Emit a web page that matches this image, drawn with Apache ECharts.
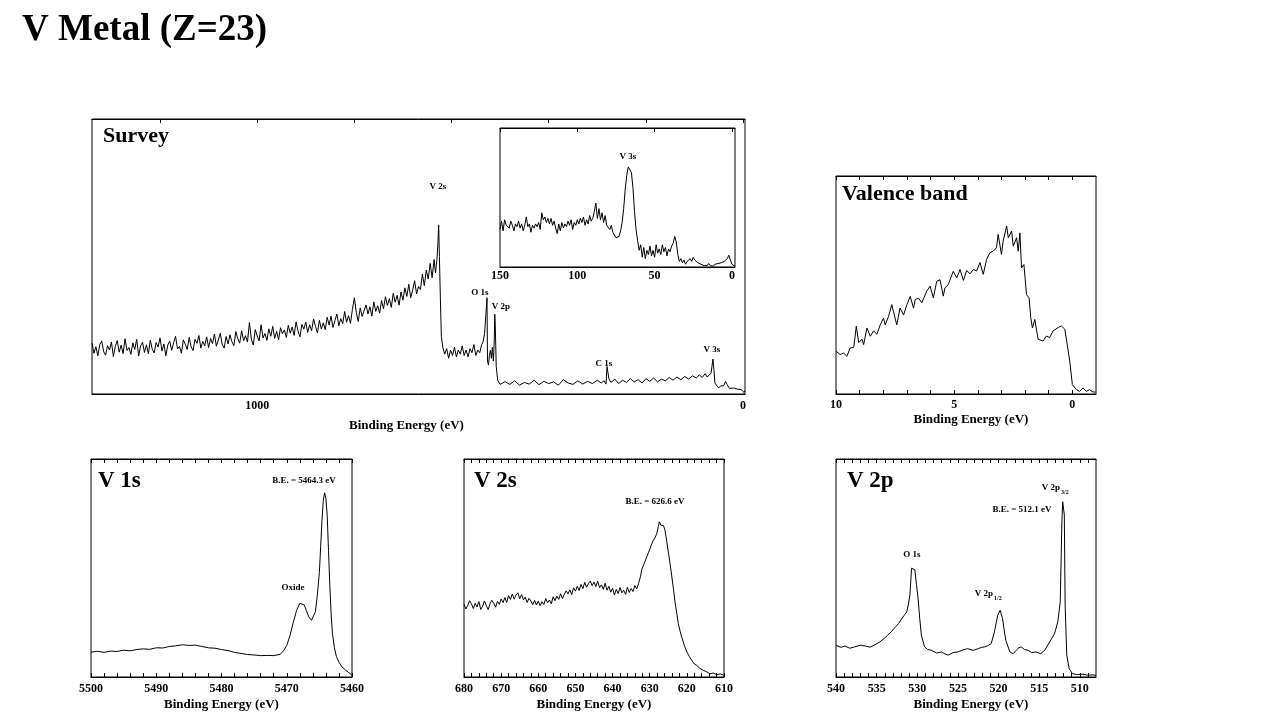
<!DOCTYPE html>
<html>
<head>
<meta charset="utf-8">
<script src="https://cdn.jsdelivr.net/npm/echarts@6/dist/echarts.min.js"></script>
<style>
  html, body { margin: 0; padding: 0; background: #fff; }
  #main { width: 1280px; height: 720px; }
</style>
</head>
<body>
<div id="main"></div>
<script>
// survey, 1340 -> -4 eV (intensity in % of box height)
var surveyE = [1340,1336,1332,1328,1324,1320,1316,1312,1308,1304,
    1300,1296,1292,1288,1284,1280,1276,1272,1268,1264,
    1260,1256,1252,1248,1244,1240,1236,1232,1228,1224,
    1220,1216,1212,1208,1204,1200,1196,1192,1188,1184,
    1180,1176,1172,1168,1164,1160,1156,1152,1148,1144,
    1140,1136,1132,1128,1124,1120,1116,1112,1108,1104,
    1100,1096,1092,1088,1084,1080,1076,1072,1068,1064,
    1060,1056,1052,1048,1044,1040,1036,1032,1028,1024,
    1020,1016,1012,1008,1004,1000,996,992,988,984,
    980,976,972,968,964,960,956,952,948,944,
    940,936,932,928,924,920,916,912,908,904,
    900,896,892,888,884,880,876,872,868,864,
    860,856,852,848,844,840,836,832,828,824,
    820,816,812,808,804,800,796,792,788,784,
    780,776,772,768,764,760,756,752,748,744,
    740,736,732,728,724,720,716,712,708,704,
    700,696,692,688,684,680,676,672,668,664,
    660,656,652,648,644,640,636,633,630,628,626.5,625,623,621,618,614,610,606,602,598,594,590,586,582,578,574,570,566,562,558,554,550,546,542,538,535,532,527,526,524,522,520,518,516,514,513,512,511,510,508,505,
    500,490,480,470,460,450,440,430,420,410,400,390,380,370,360,350,340,330,320,310,300,292,286,282,280,276,272,264,256,248,240,232,224,216,208,200,192,184,176,168,160,152,144,136,128,120,112,104,96,90,84,78,74,70,66,64,62,60,58,54,50,46,42,40,38,36,33,28,24,20,16,12,8,4,2,0,-2,-4];
var surveyI = [18.5,14.8,17.2,13.9,17.9,19.3,15.4,14.1,17.6,16.0,
    18.9,13.6,17.3,19.4,15.2,17.8,14.7,20.1,15.8,16.9,
    14.4,18.6,16.2,19.9,13.8,17.5,18.8,15.1,17.9,14.6,
    19.6,16.3,14.9,18.7,17.1,20.4,15.6,18.2,13.9,17.8,
    19.2,15.9,18.6,21.0,16.4,17.3,14.8,19.7,18.1,16.2,
    20.6,17.2,15.8,19.9,18.4,21.3,16.7,19.1,17.5,20.8,
    16.9,20.2,18.3,21.8,17.4,19.6,22.1,18.0,16.7,20.9,
    18.2,21.5,19.0,17.6,22.7,20.1,18.5,23.0,19.4,21.2,
    18.9,26.0,20.0,17.8,23.4,21.1,19.3,25.2,20.4,22.0,
    19.5,23.7,21.0,24.6,20.2,22.8,19.7,24.1,21.9,23.3,
    20.6,25.0,22.1,24.4,21.3,26.2,22.9,20.8,25.3,23.6,
    26.1,22.4,25.2,23.0,27.3,24.6,22.2,26.8,23.7,25.9,
    23.4,27.9,25.1,28.3,24.2,26.7,29.1,24.8,27.4,25.6,
    30.0,26.1,28.5,25.7,30.8,35.0,29.6,26.4,31.3,28.2,
    27.8,32.4,29.1,31.7,28.3,33.5,30.0,32.1,29.4,34.0,
    31.0,35.4,32.2,34.7,31.5,36.6,33.4,35.9,32.3,37.1,
    34.1,38.6,35.5,39.9,35.0,37.8,41.2,36.4,39.1,38.0,
    43.6,39.4,45.1,41.8,47.5,42.3,48.9,44,49,55,61.5,50,35,21,17,14.5,16.5,13,16,14,17,13.5,16,14.5,17.5,14,16,13.5,16.5,15,18,14,16,15,18,19,22,35,12,10.5,14,16,13,17,12,15,20,29,25,10,5,3.5,
    4.5,3.5,4.8,3.2,4.2,3.6,5,3.4,4.6,3.8,4.4,3.2,5.2,4,3.5,4.8,3.6,4.6,3.8,5,4,4.8,3.6,10,5.5,4.2,5.4,3.8,5,4.2,5.6,4.4,5.2,4,5.6,4.6,5.8,4.4,5.4,4.8,6,5,6.2,5.2,6.4,5.4,6.6,5.8,7,6,7.4,6.2,6.8,7.5,10,12.7,9,4,3,2.2,3,2.4,3,2.8,4.6,3.5,2,1.6,2.2,1.5,1.8,1.2,1.6,1.2,1.8,0.6,1.2,1];

// survey inset, 150 -> -2 eV
var insetE = [150,149,148,147,146,145,144,143,142,141,140,139,138,137,136,135,134,133,132,131,130,129,128,127,126,125,124,123,122,121,120,119,118,117,116,115,114,113,112,111,110,109,108,107,106,105,104,103,102,101,100,99,98,97,96,95,94,93,92,91,90,89,88,87,86,85,84,83,82,81,80,79,78,77,76,75,74,73,72,71,70,69,68,67,66,65,64,63,62,61,60,59,58,57,56,55,54,53,52,51,50,49,48,47,46,45,44,43,42,41,40,39,38,37,36,35,34,33,32,31,30,29,28,27,26,25,24,23,22,21,20,19,18,17,16,15,14,13,12,11,10,9,8,7,6,5,4,3,2,1,0,-1,-2];
var insetI = [27,33,26,34,30,31,28,33,30,26,31,29,33,28,31,26,30,36,29,31,25,30,28,31,29,32,27,39,34,36,32,35,31,35,30,33,28,24,31,26,32,28,31,29,33,30,34,27,32,30,34,31,35,32,36,30,34,31,37,33,35,40,46,35,42,34,39,32,37,30,31,27,30,25,23,21,20,22,26,32,42,56,66,72,72,68,57,40,27,19,12,16,7,14,6,12,9,15,8,12,7,16,10,13,9,16,11,14,8,13,11,15,17,22,18,9,4,6,3,5,2,4,3,6,4,7,5,6,3,4,2,3,1,2,1,2.5,1,1.5,0.5,2,1,2.5,1.5,3,2,4,3,6,8.5,5,2,1,0.5];

// valence band, 10 -> -1 eV
var valE = [10.0,9.82,9.68,9.54,9.40,9.25,9.14,9.04,8.90,8.83,8.69,8.55,8.41,8.27,8.13,7.99,7.92,7.78,7.64,7.57,7.43,7.29,7.14,7.00,6.86,6.72,6.65,6.51,6.37,6.16,6.02,5.88,5.74,5.60,5.46,5.39,5.25,5.04,4.89,4.75,4.61,4.47,4.33,4.19,4.05,3.91,3.77,3.63,3.49,3.35,3.21,3.14,3.00,2.93,2.78,2.71,2.57,2.50,2.36,2.29,2.22,2.15,2.05,1.94,1.83,1.76,1.69,1.59,1.45,1.24,1.10,0.96,0.82,0.60,0.46,0.32,0.23,0.11,0.00,-0.17,-0.31,-0.45,-0.59,-0.73,-0.87,-0.98];
var valI = [19.6,18.1,18.8,17.3,21.1,21.4,31.1,23.6,25.1,22.7,30.3,26.5,28.9,27.4,31.7,34.8,31.7,35.5,41.0,37.9,31.7,39.4,36.3,41.0,44.8,39.4,43.3,44.0,41.8,47.2,49.5,44.1,51.7,52.4,44.9,48.7,50.2,56.3,53.3,57.1,52.1,56.7,55.1,57.1,56.4,60.3,54.9,61.7,64.8,65.5,67.1,73.2,64.0,70.1,77.0,71.7,74.7,67.8,71.7,65.5,73.9,57.9,59.4,45.6,44.1,35.0,30.3,34.2,25.1,24.3,26.6,25.9,28.9,30.5,31.2,29.7,23.6,15.0,4.3,2.0,1.2,2.8,1.2,2.0,0.9,0.9];

// V 1s, 5500 -> 5460 eV
var v1sE = [5500,5499,5498,5497,5496,5495,5494,5493,5492,5491,5490,5489,5488,5487,5486,5485,5484,5483,5482,5481,5480,5479,5478,5477,5476,5475,5474,5473,5472,5471,5470.5,5470,5469.5,5469,5468.5,5468,5467.7,5467.3,5467,5466.6,5466.2,5465.9,5465.6,5465.3,5465,5464.8,5464.6,5464.4,5464.2,5464.0,5463.8,5463.6,5463.4,5463.2,5463.0,5462.7,5462.4,5462,5461.5,5461,5460.5,5460];
var v1sI = [11.4,11.8,11.3,11.9,11.7,12.3,12.0,12.6,12.9,12.7,13.4,13.3,14.0,14.3,14.8,14.5,14.6,14.0,13.4,13.2,12.6,12.1,11.3,10.8,10.3,10.1,9.8,9.9,9.8,10.4,12,14.5,19,25,30.5,33.8,34.5,33,30.5,27.5,26,26.5,30,38,48,60,72,81,84.5,82,74,58,42,29,20,13.5,9.5,6.8,4.5,3.2,2,0.8];

// V 2s, 680 -> 610 eV
var v2sE = [680,679.5,679,678.5,678,677.5,677,676.5,676,675.5,675,674.5,674,673.5,673,672.5,672,671.5,671,670.5,
    670,669.5,669,668.5,668,667.5,667,666.5,666,665.5,665,664.5,664,663.5,663,662.5,662,661.5,661,660.5,
    660,659.5,659,658.5,658,657.5,657,656.5,656,655.5,655,654.5,654,653.5,653,652.5,652,651.5,651,650.5,
    650,649.5,649,648.5,648,647.5,647,646.5,646,645.5,645,644.5,644,643.5,643,642.5,642,641.5,641,640.5,
    640,639.5,639,638.5,638,637.5,637,636.5,636,635.5,635,634.5,634,633.5,633,632.5,
    632.1,631.5,630.8,630.3,629.9,629.4,629.0,628.5,628.1,627.7,627.4,627.0,626.7,626.3,625.9,625.4,625.0,624.5,624.1,623.6,623.2,622.7,622.3,621.8,621.4,620.7,620.0,619.3,618.7,618.0,617.4,616.5,615.6,614.7,613.8,612.9,612.0,611.0,610];
var v2sI = [33.5,31.2,32.8,35.0,33.6,31.4,33.8,32.1,34.6,31.0,32.4,34.9,32.8,30.9,33.6,35.2,33.9,32.0,34.7,33.3,
    35.8,34.1,36.4,34.2,37.3,35.6,38.1,35.7,37.6,38.6,35.9,37.8,35.4,36.6,34.2,36.1,34.9,33.2,35.1,33.0,
    34.8,32.7,34.6,33.2,36.0,34.1,35.3,33.6,36.8,35.0,37.1,35.6,38.2,36.0,37.9,39.5,38.1,40.0,37.8,40.9,
    39.4,41.6,39.7,42.5,40.5,43.4,41.2,42.8,44.0,41.9,43.6,41.5,43.9,41.0,42.3,40.2,43.0,39.8,41.6,38.9,
    40.7,37.6,40.2,38.3,41.0,38.6,39.8,37.9,41.1,38.8,40.6,39.2,41.9,40.4,42.9,46.0,
    49.5,52.0,55.1,57.2,59.0,61.3,62.8,64.1,65.8,68.9,71.2,69.6,70.4,69.5,67.4,62.1,57.4,51.8,46.7,40.3,34.5,29.0,24.5,20.9,18.4,14.6,11.5,9.3,7.7,6.0,5.4,4.0,3.1,2.4,1.5,1.8,1.1,1.4,0.8];

// V 2p, 540 -> 508 eV
var v2pE = [540,539.4,538.9,538.3,537.7,537.0,536.4,535.8,535.2,534.6,534.0,533.6,533.2,532.7,532.3,531.9,531.6,531.3,531.1,530.9,530.7,530.5,530.3,530.1,529.9,529.7,529.5,529.1,528.7,528.3,527.6,527.0,526.6,526.2,525.6,525.0,524.4,523.8,523.1,522.5,522.1,521.7,521.3,520.9,520.5,520.1,519.8,519.5,519.3,519.1,518.6,518.2,517.8,517.5,517.2,516.8,516.4,515.9,515.4,514.8,514.3,513.7,513.1,512.7,512.4,512.2,512.1,511.9,511.8,511.6,511.3,510.9,510.3,509.6,509.0,508.5,508];
var v2pI = [14.5,13.6,14.2,13.2,13.8,14.6,14.2,13.7,14.8,16.1,17.9,19.4,20.7,22.9,24.5,26.8,28.3,29.9,33.1,37.7,49.9,50.7,49.2,42.5,36.1,27.0,19.3,13.8,12.6,12.3,11.0,11.5,10.6,10.0,11.2,11.5,12.4,13.0,12.2,13.0,13.6,13.8,14.4,15.3,20.7,28.3,30.6,26.8,21.5,16.8,11.5,10.7,12.3,13.4,13.8,12.6,12.3,11.2,11.5,10.7,12.3,16.1,19.9,25.3,34.5,71.2,80.4,74.3,33.1,10.0,3.8,1.5,1.1,1.3,0.8,1.0,0.8];

// tick labels and tick marks for each panel
var surveyLabels = [1000, 0];
var surveyTicks = [0, 200, 400, 600, 800, 1000, 1200];
var insetLabels = [150, 100, 50, 0];
var valLabels = [10, 5, 0];
var valTicks = [10,9,8,7,6,5,4,3,2,1,0];
var v1sLabels = [5500, 5490, 5480, 5470, 5460];
var v1sTicks = [5500,5498,5496,5494,5492,5490,5488,5486,5484,5482,5480,5478,5476,5474,5472,5470,5468,5466,5464,5462,5460];
var v2sLabels = [680, 670, 660, 650, 640, 630, 620, 610];
var v2sTicks = [680,678,676,674,672,670,668,666,664,662,660,658,656,654,652,650,648,646,644,642,640,638,636,634,632,630,628,626,624,622,620,618,616,614,612,610];
var v2pLabels = [540, 535, 530, 525, 520, 515, 510];
var v2pTicks = [540,539,538,537,536,535,534,533,532,531,530,529,528,527,526,525,524,523,522,521,520,519,518,517,516,515,514,513,512,511,510,509];

var SERIF = "'Liberation Serif', 'Times New Roman', serif";

function zip(a, b) {
    return a.map(function (v, i) { return [v, b[i]]; });
}

// namePad shifts the axis title sideways: [top, right, bottom, left]
var panels = [
    { left: 92, top: 119, width: 653, height: 275, min: -4, max: 1340, labels: surveyLabels, ticks: surveyTicks, bottomTicks: false, name: 'Binding Energy (eV)', gap: 25, margin: 6, namePad: [0, 24, 0, 0], data: zip(surveyE, surveyI) },
    { left: 500, top: 128, width: 235, height: 139, min: -2, max: 150, labels: insetLabels, ticks: insetLabels, bottomTicks: false, name: '', gap: 0, margin: 3, namePad: 0, data: zip(insetE, insetI) },
    { left: 836, top: 176, width: 260, height: 218, min: -1, max: 10, labels: valLabels, ticks: valTicks, bottomTicks: true, name: 'Binding Energy (eV)', gap: 19, margin: 5, namePad: [0, 0, 0, 10], data: zip(valE, valI) },
    { left: 91, top: 459, width: 261, height: 218, min: 5460, max: 5500, labels: v1sLabels, ticks: v1sTicks, bottomTicks: true, name: 'Binding Energy (eV)', gap: 21, margin: 6, namePad: 0, data: zip(v1sE, v1sI) },
    { left: 464, top: 459, width: 260, height: 218, min: 610, max: 680, labels: v2sLabels, ticks: v2sTicks, bottomTicks: true, name: 'Binding Energy (eV)', gap: 21, margin: 6, namePad: 0, data: zip(v2sE, v2sI) },
    { left: 836, top: 459, width: 260, height: 218, min: 508, max: 540, labels: v2pLabels, ticks: v2pTicks, bottomTicks: true, name: 'Binding Energy (eV)', gap: 21, margin: 6, namePad: [0, 0, 0, 10], data: zip(v2pE, v2pI) }
];

var grids = [], xAxes = [], yAxes = [], series = [];
panels.forEach(function (p, i) {
    grids.push({
        left: p.left, top: p.top, width: p.width, height: p.height,
        show: true, backgroundColor: '#fff', borderColor: '#000', borderWidth: 1
    });
    // bottom axis with labels
    xAxes.push({
        type: 'value', gridIndex: i, position: 'bottom', inverse: true,
        min: p.min, max: p.max,
        splitLine: { show: false },
        axisLine: { show: true, onZero: false, lineStyle: { color: '#000', width: 1 } },
        axisTick: { show: p.bottomTicks, inside: true, length: 4, customValues: p.ticks, lineStyle: { color: '#000' } },
        axisLabel: {
            customValues: p.labels, color: '#000', fontFamily: SERIF, fontWeight: 'bold', fontSize: 12, margin: p.margin,
            formatter: function (v) { return String(v); }
        },
        name: p.name, nameLocation: 'middle', nameGap: p.gap,
        nameTextStyle: { color: '#000', fontFamily: SERIF, fontWeight: 'bold', fontSize: 13, padding: p.namePad }
    });
    // top axis, ticks only
    xAxes.push({
        type: 'value', gridIndex: i, position: 'top', inverse: true,
        min: p.min, max: p.max,
        splitLine: { show: false },
        axisLine: { show: true, onZero: false, lineStyle: { color: '#000', width: 1 } },
        axisTick: { show: true, inside: true, length: 4, customValues: p.ticks, lineStyle: { color: '#000' } },
        axisLabel: { show: false }
    });
    yAxes.push({ type: 'value', gridIndex: i, min: 0, max: 100, show: false });
    series.push({
        type: 'line', xAxisIndex: i * 2, yAxisIndex: i,
        data: p.data, showSymbol: false, symbol: 'none',
        lineStyle: { color: '#000', width: 1 }, z: 3
    });
});

function txt(x, y, s, size, align) {
    return {
        type: 'text', x: x, y: y, z: 100,
        style: {
            text: s, fill: '#000', textAlign: align || 'center', textVerticalAlign: 'middle',
            font: 'bold ' + size + 'px ' + SERIF
        }
    };
}

var texts = [
    txt(22, 30, 'V Metal (Z=23)', 37, 'left'),
    txt(103, 136, 'Survey', 22, 'left'),
    txt(842, 194, 'Valence band', 22, 'left'),
    txt(98, 481, 'V 1s', 23, 'left'),
    txt(474, 481, 'V 2s', 23, 'left'),
    txt(847, 481, 'V 2p', 23, 'left'),
    // survey peaks
    txt(438, 187, 'V 2s', 9),
    txt(480, 293, 'O 1s', 9),
    txt(501, 307, 'V 2p', 9),
    txt(604, 364, 'C 1s', 9),
    txt(712, 350, 'V 3s', 9),
    txt(628, 157, 'V 3s', 9),
    // V 1s
    txt(304, 481, 'B.E. = 5464.3 eV', 9),
    txt(293, 588, 'Oxide', 9),
    // V 2s
    txt(655, 502, 'B.E. = 626.6 eV', 9),
    // V 2p
    txt(1051, 488, 'V 2p', 9),
    txt(1061, 492, '3/2', 6, 'left'),
    txt(1022, 510, 'B.E. = 512.1 eV', 9),
    txt(912, 555, 'O 1s', 9),
    txt(984, 594, 'V 2p', 9),
    txt(994, 598, '1/2', 6, 'left')
];

var chart = echarts.init(document.getElementById('main'));
chart.setOption({
    backgroundColor: '#fff',
    animation: false,
    grid: grids,
    xAxis: xAxes,
    yAxis: yAxes,
    series: series,
    graphic: texts
});
</script>
</body>
</html>
